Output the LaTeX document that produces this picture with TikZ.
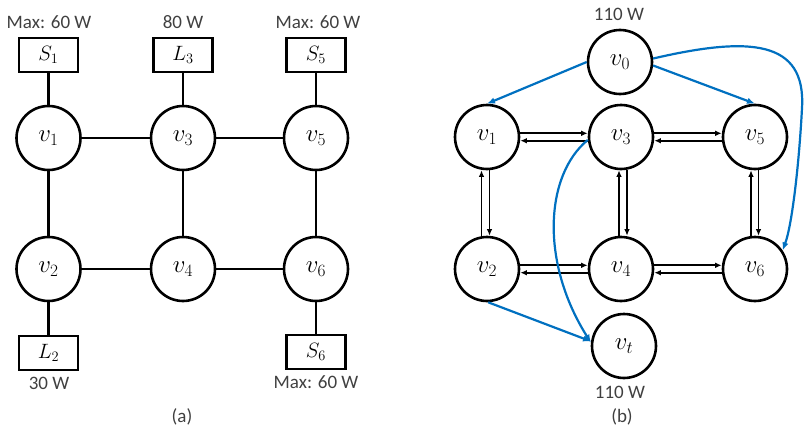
\documentclass[tikz,border=0pt]{standalone}
\usepackage{fontspec}
\setmainfont{Carlito}
\usetikzlibrary{arrows.meta}
\definecolor{lblgray}{HTML}{404040}
\definecolor{flowblue}{HTML}{0070C0}
\begin{document}
\begin{tikzpicture}[x=1pt,y=-1pt,
  vert/.style={circle,draw,line width=2.6pt,minimum size=64pt,inner sep=0pt,font=\fontsize{23}{26}\selectfont},
  comp/.style={rectangle,draw,line width=2.6pt,minimum width=59pt,minimum height=34pt,inner sep=0pt,font=\fontsize{20}{23}\selectfont},
  lbl/.style={text=lblgray,font=\fontsize{19}{22}\selectfont,inner sep=0pt},
  wire/.style={line width=2.3pt},
  dirarr/.style={line width=1.8pt,-{Latex[length=6.5pt,width=5.5pt]}},
  flowarr/.style={draw=flowblue,line width=2.2pt,-{Latex[length=8pt,width=6.5pt]}}
]
\useasboundingbox (0,0) rectangle (805,431);

% ---------- (a) ----------
\node[vert] (a1) at (48.5,138) {$v_1$};
\node[vert] (a3) at (183,138) {$v_3$};
\node[vert] (a5) at (316,138) {$v_5$};
\node[vert] (a2) at (48.5,269) {$v_2$};
\node[vert] (a4) at (183,269) {$v_4$};
\node[vert] (a6) at (316,269) {$v_6$};

\node[comp] (s1) at (48.5,55) {$S_1$};
\node[comp] (l3) at (183,55) {$L_3$};
\node[comp] (s5) at (316,55) {$S_5$};
\node[comp] (l2) at (48.5,353) {$L_2$};
\node[comp] (s6) at (316,352) {$S_6$};

\node[lbl] (ts1) at (49,22) {Max: 60 W};
\node[lbl] (tl3) at (183,22) {80 W};
\node[lbl] (ts5) at (318,22) {Max: 60 W};
\node[lbl] (tl2) at (49,383) {30 W};
\node[lbl] (ts6) at (316,382) {Max: 60 W};
\node[lbl] (capa) at (182,417) {(a)};

\draw[wire] (s1) -- (a1);
\draw[wire] (l3) -- (a3);
\draw[wire] (s5) -- (a5);
\draw[wire] (l2) -- (a2);
\draw[wire] (s6) -- (a6);
\draw[wire] (a1) -- (a3);
\draw[wire] (a3) -- (a5);
\draw[wire] (a2) -- (a4);
\draw[wire] (a4) -- (a6);
\draw[wire] (a1) -- (a2);
\draw[wire] (a3) -- (a4);
\draw[wire] (a5) -- (a6);

% ---------- (b) ----------
\node[vert] (v0) at (620,62) {$v_0$};
\node[vert] (v1) at (487,137) {$v_1$};
\node[vert] (v3) at (621,137) {$v_3$};
\node[vert] (v5) at (755,137) {$v_5$};
\node[vert] (v2) at (487,269) {$v_2$};
\node[vert] (v4) at (621,269) {$v_4$};
\node[vert] (v6) at (755,269) {$v_6$};
\node[vert] (vt) at (624,346) {$v_t$};

\node[lbl] (t0) at (619,14) {110 W};
\node[lbl] (tt) at (620,392) {110 W};
\node[lbl] (capb) at (622,417) {(b)};

% horizontal double arrows
\foreach \p/\q in {v1/v3,v3/v5,v2/v4,v4/v6}{
  \draw[dirarr] ([yshift=3.7pt]\p.east) -- ([yshift=3.7pt]\q.west);
  \draw[dirarr] ([yshift=-3.7pt]\q.west) -- ([yshift=-3.7pt]\p.east);
}
% vertical double arrows
\draw[dirarr] ([xshift=-5.5pt]v2.north) -- ([xshift=-5.5pt]v1.south);
\draw[dirarr] ([xshift=2.5pt]v1.south) -- ([xshift=2.5pt]v2.north);
\draw[dirarr] ([xshift=-2pt]v4.north) -- ([xshift=-2pt]v3.south);
\draw[dirarr] ([xshift=6pt]v3.south) -- ([xshift=6pt]v4.north);
\draw[dirarr] ([xshift=-4pt]v6.north) -- ([xshift=-4pt]v5.south);
\draw[dirarr] ([xshift=3.5pt]v5.south) -- ([xshift=3.5pt]v6.north);

% blue flow arrows
\coordinate (bend) at (802,108);
\draw[flowarr] (v0.west) -- (v1.north);
\draw[flowarr] (v0.-6) -- (v5.north);
\draw[flowarr] (v0.6) .. controls (750,36) and (806,40) .. (bend) .. controls (799,165) and (792,225) .. (v6.34);
\draw[flowarr] (v3.185) .. controls (545,175) and (540,262) .. (vt.174);
\draw[flowarr] (v2.-88) -- (vt.172);
\end{tikzpicture}
\end{document}
